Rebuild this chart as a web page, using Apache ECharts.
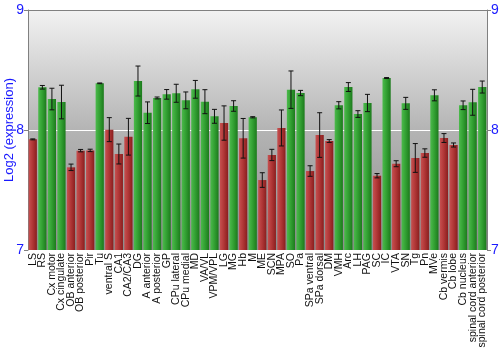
<!DOCTYPE html>
<html><head><meta charset="utf-8">
<script src="https://cdn.jsdelivr.net/npm/echarts@6/dist/echarts.min.js"></script>
<style>html,body{margin:0;padding:0;background:#fff}#c{width:500px;height:350px}</style>
</head><body><div id="c"></div>
<script>
const categories = ["LS","RS","Cx motor","Cx cingulate","OB anterior","OB posterior","Pir","Tu","ventral S","CA1","CA2/CA3","DG","A anterior","A posterior","GP","CPu lateral","CPu medial","MD","VA/VL","VPM/VPL","LG","MG","Hb","M","ME","SCN","MPA","SO","Pa","SPa ventral","SPa dorsal","DM","VMH","Arc","LH","PAG","SC","IC","VTA","SN","Tg","Pn","MVe","Cb vermis","Cb lobe","Cb nucleus","spinal cord anterior","spinal cord posterior"];
const values = [7.922,8.356,8.258,8.233,7.689,7.828,7.83,8.389,8.003,7.8,7.944,8.408,8.144,8.267,8.297,8.306,8.247,8.339,8.236,8.114,8.058,8.2,7.931,8.106,7.583,7.792,8.017,8.336,8.308,7.658,7.958,7.908,8.206,8.358,8.133,8.225,7.619,8.433,7.719,8.222,7.767,7.808,8.289,7.933,7.875,8.206,8.231,8.358];
const errors = [0.004,0.015,0.09,0.14,0.027,0.01,0.01,0.003,0.1,0.083,0.153,0.125,0.09,0.008,0.04,0.075,0.07,0.074,0.1,0.058,0.143,0.044,0.165,0.005,0.061,0.047,0.15,0.156,0.022,0.044,0.186,0.012,0.03,0.037,0.028,0.072,0.018,0.004,0.025,0.05,0.12,0.035,0.046,0.037,0.017,0.036,0.108,0.05];
const groups = ["r","g","g","g","r","r","r","g","r","r","r","g","g","g","g","g","g","g","g","g","r","g","r","g","r","r","r","g","g","r","r","r","g","g","g","g","r","g","r","g","r","r","g","r","r","g","g","g"];
const yTicks = [7,8,9];

const redGrad = new echarts.graphic.LinearGradient(0,0,1,0,[{offset:0,color:'#c65050'},{offset:0.45,color:'#b23838'},{offset:1,color:'#8a1e1e'}]);
const greenGrad = new echarts.graphic.LinearGradient(0,0,1,0,[{offset:0,color:'#4cba4c'},{offset:0.45,color:'#34a234'},{offset:1,color:'#1c7a1c'}]);

const chart = echarts.init(document.getElementById('c'), null, {renderer:'canvas'});
const blue = '#1a1aff';
const axisGray = '#808080';
const yAxisCommon = {
  type:'value', min:yTicks[0], max:yTicks[yTicks.length-1], interval:1,
  axisLine:{show:true,lineStyle:{color:axisGray}},
  axisTick:{show:true,length:4,lineStyle:{color:axisGray}},
  axisLabel:{color:blue,fontSize:14,fontFamily:'Liberation Sans, Arial',margin:4},
  splitLine:{show:false}
};
chart.setOption({
  animation:false,
  grid:{left:28,right:13,top:10,bottom:100,show:true,borderWidth:0,containLabel:false,outerBoundsMode:'none',
    backgroundColor:new echarts.graphic.LinearGradient(0,0,0,1,[{offset:0,color:'#f2f2f2'},{offset:0.5,color:'#b4b4b4'},{offset:1,color:'#8c8c8c'}])},
  xAxis:[{
    type:'category', data:categories, boundaryGap:true,
    axisLine:{show:false}, axisTick:{show:false},
    axisLabel:{rotate:90,interval:0,fontSize:10.5,color:'#111',fontFamily:'Liberation Sans, Arial',margin:3}
  },{
    type:'category', position:'top', data:categories, boundaryGap:true,
    axisLine:{show:true,lineStyle:{color:axisGray}}, axisTick:{show:false}, axisLabel:{show:false}
  }],
  yAxis:[
    Object.assign({}, yAxisCommon, {position:'left', name:'Log2 (expression)', nameLocation:'middle', nameGap:12, nameMoveOverlap:false,
      nameTextStyle:{color:blue,fontSize:13,fontFamily:'Liberation Sans, Arial'},
      splitLine:{show:true,lineStyle:{color:'#ffffff',width:1}}}),
    Object.assign({}, yAxisCommon, {position:'right'})
  ],
  series:[{
    type:'bar', barCategoryGap:'14%',
    data:values.map((v,i)=>({value:v,itemStyle:{color:groups[i]==='r'?redGrad:greenGrad}})),
    z:2
  },{
    type:'custom', z:5,
    data:values.map((v,i)=>[i, v-errors[i], v+errors[i]]),
    renderItem:function(params, api){
      const lo = api.coord([api.value(0), api.value(1)]);
      const hi = api.coord([api.value(0), api.value(2)]);
      const hw = 2.5;
      const st = {stroke:'#111', lineWidth:1};
      return {type:'group', children:[
        {type:'line', shape:{x1:lo[0],y1:lo[1],x2:hi[0],y2:hi[1]}, style:st},
        {type:'line', shape:{x1:lo[0]-hw,y1:lo[1],x2:lo[0]+hw,y2:lo[1]}, style:st},
        {type:'line', shape:{x1:hi[0]-hw,y1:hi[1],x2:hi[0]+hw,y2:hi[1]}, style:st}
      ]};
    }
  }]
});
</script></body></html>
